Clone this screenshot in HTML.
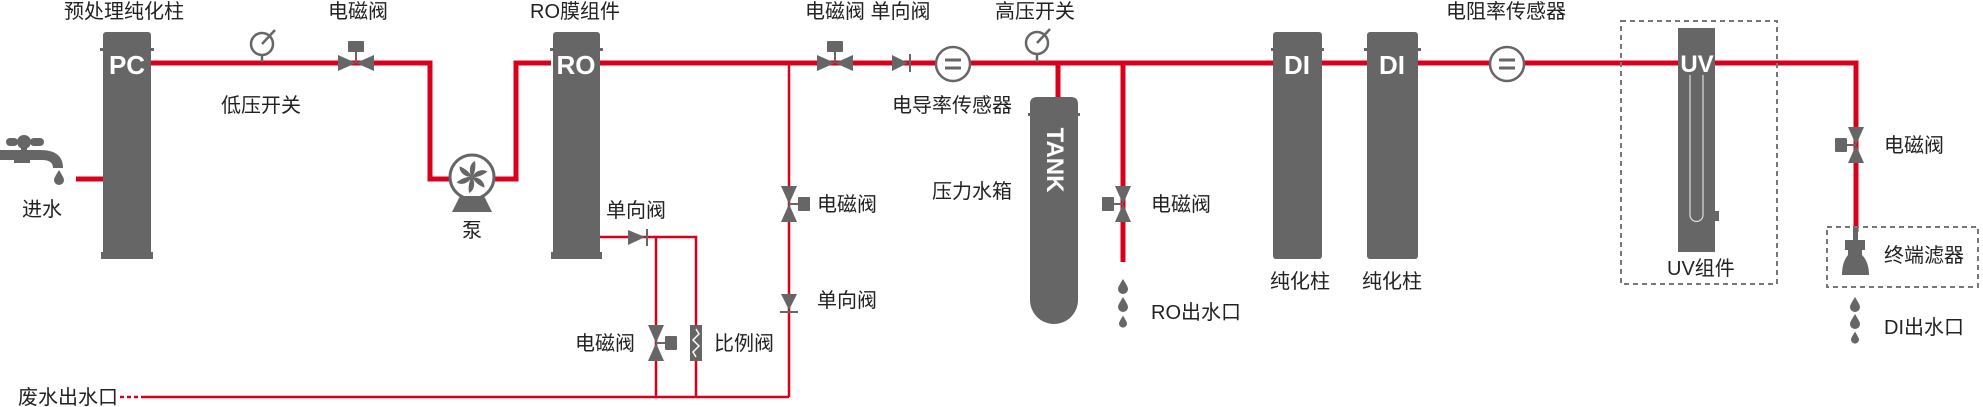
<!DOCTYPE html>
<html><head><meta charset="utf-8"><style>
html,body{margin:0;padding:0;background:#fff;}
svg{display:block;}
text{font-family:"Liberation Sans","Noto Sans CJK SC",sans-serif;font-size:20px;fill:#222;}
</style></head><body>
<svg width="1983" height="407" viewBox="0 0 1983 407" xmlns="http://www.w3.org/2000/svg">
<defs>
<g id="valveH"><polygon points="-18,-8 -18,8 0,0" fill="#666"/><polygon points="18,-8 18,8 0,0" fill="#666"/><rect x="-1" y="-12" width="2" height="12" fill="#666"/><rect x="-8" y="-22" width="16" height="11" rx="1" fill="#666"/></g>
<g id="valveV"><polygon points="-8,-18 8,-18 0,0" fill="#666"/><polygon points="-8,18 8,18 0,0" fill="#666"/><rect x="0" y="-1" width="10" height="2" fill="#666"/><rect x="9" y="-7" width="12" height="14" rx="1" fill="#666"/></g>
<g id="drop"><path d="M0,-8 C3,-3 5,0 5,2 A5,5 0 0 1 -5,2 C-5,0 -3,-3 0,-8Z" fill="#666"/></g>
</defs>
<g stroke="#d9001b" fill="none" stroke-width="5">
<line x1="76" y1="179" x2="103" y2="179"/>
<polyline points="151,63 430,63 430,179 516,179 516,63 551,63"/>
<line x1="600" y1="63" x2="1678" y2="63"/>
<polyline points="1715,63 1856,63 1856,232"/>
<line x1="1058" y1="63" x2="1058" y2="98"/>
<line x1="1123" y1="63" x2="1123" y2="262"/>
</g>
<g stroke="#d9001b" fill="none" stroke-width="2.5">
<polyline points="600,237 696,237 696,397"/>
<line x1="656" y1="237" x2="656" y2="397"/>
<line x1="789" y1="63" x2="789" y2="397"/>
<line x1="145" y1="397" x2="789" y2="397"/>
<line x1="120" y1="397" x2="145" y2="397" stroke-dasharray="4,3"/>
</g>
<g fill="#666">
<rect x="103" y="32" width="48" height="227" rx="3"/><rect x="100" y="48" width="54" height="3"/><rect x="101" y="252" width="52" height="7"/>
<rect x="553" y="32" width="47" height="227" rx="3"/><rect x="550" y="48" width="53" height="3"/><rect x="551" y="252" width="51" height="7"/>
<rect x="1273" y="32" width="49" height="227" rx="3"/><rect x="1271" y="48" width="53" height="3"/>
<rect x="1367" y="32" width="51" height="227" rx="3"/><rect x="1364" y="48" width="57" height="3"/>
<path d="M1030,104 Q1030,97 1037,97 L1071,97 Q1078,97 1078,104 L1078,300 A24,24 0 0 1 1030,300Z"/><rect x="1028" y="113" width="52" height="3"/>
<rect x="1678" y="28" width="37" height="224"/><rect x="1715" y="211" width="4" height="10"/>
</g>
<g>
<text x="127" y="74" text-anchor="middle" style="font-size:26px;fill:#fff;font-weight:bold">PC</text>
<text x="576" y="74" text-anchor="middle" style="font-size:26px;fill:#fff;font-weight:bold">RO</text>
<text x="1297" y="74" text-anchor="middle" style="font-size:26px;fill:#fff;font-weight:bold">DI</text>
<text x="1392" y="74" text-anchor="middle" style="font-size:26px;fill:#fff;font-weight:bold">DI</text>
<text x="1697" y="72" text-anchor="middle" style="font-size:24px;fill:#fff;font-weight:bold">UV</text>
<text transform="translate(1047,160) rotate(90)" text-anchor="middle" style="font-size:24px;fill:#fff;font-weight:bold">TANK</text>
</g>
<path d="M1690,75 L1690,215 A6.5,6.5 0 0 0 1703,215 L1703,75" stroke="#ddd" stroke-width="1.2" fill="none"/>
<g fill="#666">
<rect x="6" y="138" width="12" height="8" rx="4"/><circle cx="24" cy="142" r="7"/><rect x="30" y="138" width="14" height="8" rx="4"/>
<rect x="21" y="146" width="6" height="6"/>
<path d="M0,150 L40,150 Q63,150 63,168 L53,168 Q53,160 42,160 L30,160 L30,163 L14,163 L14,160 L0,160Z"/>
</g>
<use href="#drop" x="59" y="178"/>
<g stroke="#666" stroke-width="2.5" fill="none">
<circle cx="262" cy="44" r="11"/><line x1="262" y1="55" x2="262" y2="62"/><line x1="262" y1="44" x2="275" y2="30"/>
<circle cx="1037" cy="43" r="11"/><line x1="1037" y1="54" x2="1037" y2="62"/><line x1="1037" y1="43" x2="1050" y2="29"/>
<circle cx="953" cy="64" r="17" fill="#fff"/><line x1="945" y1="60" x2="961" y2="60" stroke-width="3"/><line x1="945" y1="68" x2="961" y2="68" stroke-width="3"/>
<circle cx="1507" cy="64" r="17" fill="#fff"/><line x1="1499" y1="60" x2="1515" y2="60" stroke-width="3"/><line x1="1499" y1="68" x2="1515" y2="68" stroke-width="3"/>
</g>
<circle cx="472" cy="177" r="22" fill="#fff" stroke="#666" stroke-width="3"/>
<g fill="#666" transform="translate(472,177)">
<path d="M0,0 C-4,-6 -2,-14 3,-16 C4,-10 3,-4 0,0Z"/><path d="M0,0 C-4,-6 -2,-14 3,-16 C4,-10 3,-4 0,0Z" transform="rotate(60)"/><path d="M0,0 C-4,-6 -2,-14 3,-16 C4,-10 3,-4 0,0Z" transform="rotate(120)"/><path d="M0,0 C-4,-6 -2,-14 3,-16 C4,-10 3,-4 0,0Z" transform="rotate(180)"/><path d="M0,0 C-4,-6 -2,-14 3,-16 C4,-10 3,-4 0,0Z" transform="rotate(240)"/><path d="M0,0 C-4,-6 -2,-14 3,-16 C4,-10 3,-4 0,0Z" transform="rotate(300)"/>
</g>
<path d="M460,196 L484,196 L492,212 L452,212Z" fill="#666"/>
<use href="#valveH" x="356" y="63"/>
<use href="#valveH" x="835" y="63"/>
<use href="#valveV" x="789" y="204"/>
<use href="#valveV" x="656" y="343"/>
<use href="#valveV" x="1123" y="204" transform="translate(2246,0) scale(-1,1)"/>
<use href="#valveV" x="1856" y="145" transform="translate(3712,0) scale(-1,1)"/>
<g fill="#666">
<polygon points="892,55 892,71 908,63"/><rect x="909" y="54" width="2" height="18"/>
<polygon points="628,230 628,245 645,237"/><rect x="646" y="229" width="2" height="17"/>
<polygon points="781,294 797,294 789,310"/><rect x="780" y="311" width="18" height="2"/>
</g>
<rect x="690" y="325" width="12" height="36" fill="#666"/>
<polyline points="696,329 699,334 693,340 699,346 693,352 696,357" stroke="#fff" stroke-width="1.5" fill="none"/>
<use href="#drop" x="1123" y="287"/><use href="#drop" x="1123" y="305"/><use href="#drop" x="1123" y="322" transform="translate(1123,322) scale(0.8) translate(-1123,-322)"/>
<use href="#drop" x="1855" y="305"/><use href="#drop" x="1855" y="322"/><use href="#drop" x="1855" y="338" transform="translate(1855,338) scale(0.8) translate(-1855,-338)"/>
<g fill="#666">
<rect x="1853" y="226" width="5" height="14"/><rect x="1845" y="240" width="20" height="10"/><rect x="1848" y="250" width="14" height="5"/>
<path d="M1848,255 L1862,255 Q1869,262 1869,275 L1842,275 Q1842,262 1848,255Z"/>
</g>
<g stroke="#777" stroke-width="2" fill="none" stroke-dasharray="5,4">
<rect x="1621" y="21" width="156" height="263"/>
<rect x="1827" y="227" width="151" height="60"/>
</g>
<text x="64" y="18">预处理纯化柱</text>
<text x="328" y="18">电磁阀</text>
<text x="530" y="18">RO膜组件</text>
<text x="805" y="18">电磁阀 单向阀</text>
<text x="995" y="18">高压开关</text>
<text x="1446" y="18">电阻率传感器</text>
<text x="221" y="112">低压开关</text>
<text x="892" y="112">电导率传感器</text>
<text x="22" y="216">进水</text>
<text x="462" y="237">泵</text>
<text x="606" y="217">单向阀</text>
<text x="817" y="211">电磁阀</text>
<text x="817" y="307">单向阀</text>
<text x="932" y="198">压力水箱</text>
<text x="1151" y="211">电磁阀</text>
<text x="1151" y="319">RO出水口</text>
<text x="1270" y="288">纯化柱</text>
<text x="1362" y="288">纯化柱</text>
<text x="1667" y="275">UV组件</text>
<text x="1884" y="152">电磁阀</text>
<text x="1884" y="262">终端滤器</text>
<text x="1884" y="334">DI出水口</text>
<text x="575" y="350">电磁阀</text>
<text x="714" y="350">比例阀</text>
<text x="18" y="404">废水出水口</text>
</svg>
</body></html>
